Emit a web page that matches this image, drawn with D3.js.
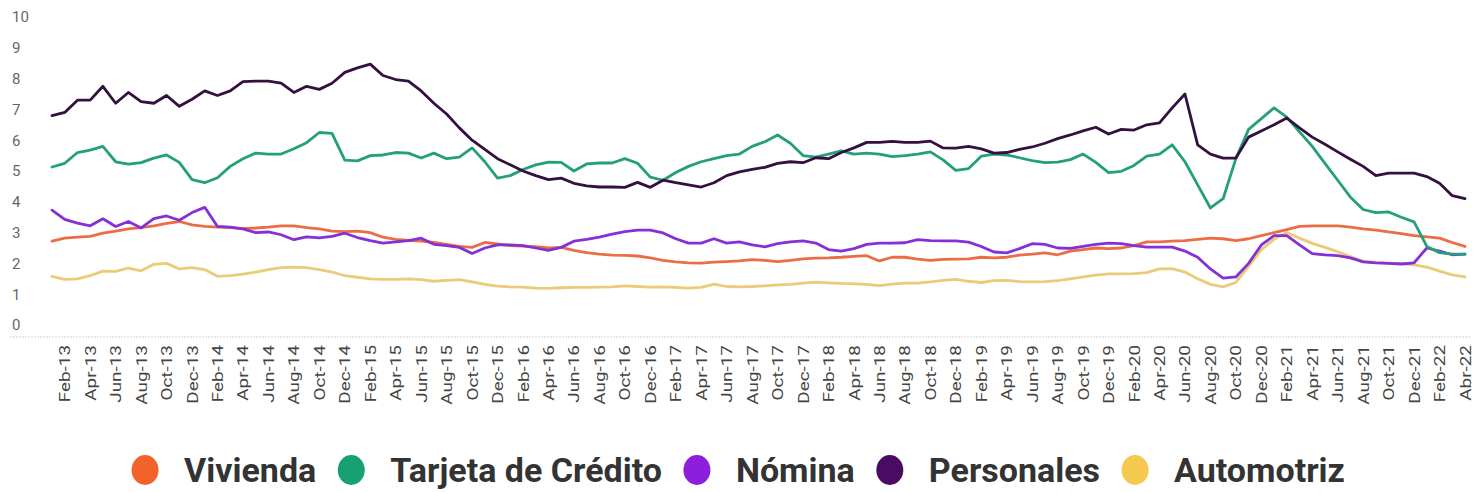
<!DOCTYPE html>
<html>
<head>
<meta charset="utf-8">
<script src="https://cdn.jsdelivr.net/npm/d3@7"></script>
<style>
  html, body { margin: 0; padding: 0; background: #fff; }
  svg { display: block; font-family: Roboto, "Noto Sans", sans-serif; }
</style>
</head>
<body>
<svg id="chart" width="1476" height="492"></svg>
<script>
// ---------- DATA ----------
const monthAbbr = ["Jan","Feb","Mar","Apr","May","Jun","Jul","Aug","Sep","Oct","Nov","Dec"];
// categories: Jan-13 .. Apr-22 (112 months)
const categories = [];
for (let y = 13; y <= 22; y++) {
  for (let m = 0; m < 12; m++) {
    if (y === 22 && m > 3) break;
    categories.push(monthAbbr[m] + "-" + y);
  }
}

const tickLabels = [
  "Feb-13","Apr-13","Jun-13","Aug-13","Oct-13","Dec-13",
  "Feb-14","Apr-14","Jun-14","Aug-14","Oct-14","Dec-14",
  "Feb-15","Apr-15","Jun-15","Aug-15","Oct-15","Dec-15",
  "Feb-16","Apr-16","Jun-16","Aug-16","Oct-16","Dec-16",
  "Feb-17","Apr-17","Jun-17","Aug-17","Oct-17","Dec-17",
  "Feb-18","Apr-18","Jun-18","Aug-18","Oct-18","Dec-18",
  "Feb-19","Apr-19","Jun-19","Aug-19","Oct-19","Dec-19",
  "Feb-20","Apr-20","Jun-20","Aug-20","Oct-20","Dec-20",
  "Feb-21","Apr-21","Jun-21","Aug-21","Oct-21","Dec-21",
  "Feb-22","Abr-22"
];

const yTicks = [0,1,2,3,4,5,6,7,8,9,10];

const vivienda = [
  2.72,2.82,2.85,2.88,2.98,3.05,3.12,3.16,3.22,3.30,
  3.36,3.25,3.20,3.18,3.16,3.13,3.15,3.18,3.22,3.22,
  3.16,3.12,3.05,3.03,3.05,3.00,2.85,2.78,2.75,2.72,
  2.68,2.62,2.55,2.52,2.68,2.63,2.58,2.56,2.54,2.50,
  2.52,2.42,2.35,2.30,2.27,2.26,2.24,2.18,2.10,2.05,
  2.02,2.01,2.04,2.06,2.08,2.12,2.10,2.06,2.10,2.15,
  2.17,2.18,2.20,2.23,2.25,2.08,2.20,2.20,2.14,2.10,
  2.13,2.14,2.15,2.20,2.18,2.20,2.27,2.30,2.34,2.28,
  2.40,2.45,2.50,2.48,2.50,2.58,2.70,2.70,2.72,2.74,
  2.78,2.82,2.80,2.74,2.80,2.90,3.00,3.10,3.20,3.22,
  3.22,3.22,3.18,3.12,3.08,3.02,2.97,2.90,2.86,2.82,
  2.68,2.55
];

const tarjeta = [
  5.13,5.25,5.60,5.68,5.80,5.30,5.22,5.27,5.42,5.52,
  5.28,4.72,4.62,4.78,5.15,5.40,5.58,5.55,5.55,5.72,
  5.92,6.25,6.22,5.35,5.33,5.50,5.52,5.60,5.58,5.42,
  5.58,5.40,5.45,5.75,5.30,4.77,4.85,5.05,5.20,5.29,
  5.28,5.00,5.23,5.26,5.26,5.40,5.25,4.80,4.70,4.95,
  5.15,5.30,5.40,5.50,5.55,5.80,5.95,6.17,5.90,5.50,
  5.45,5.55,5.65,5.55,5.58,5.55,5.47,5.50,5.55,5.62,
  5.36,5.02,5.08,5.48,5.55,5.52,5.43,5.34,5.27,5.29,
  5.37,5.55,5.28,4.95,4.99,5.18,5.48,5.55,5.85,5.30,
  4.55,3.80,4.10,5.40,6.35,6.70,7.05,6.75,6.27,5.80,
  5.25,4.70,4.15,3.75,3.65,3.67,3.50,3.35,2.55,2.35,
  2.30,2.30
];

const nomina = [
  3.73,3.43,3.31,3.22,3.45,3.20,3.36,3.15,3.45,3.54,
  3.40,3.65,3.82,3.20,3.18,3.12,3.00,3.02,2.93,2.77,
  2.86,2.83,2.88,2.98,2.84,2.74,2.66,2.70,2.74,2.82,
  2.62,2.58,2.52,2.32,2.50,2.60,2.60,2.58,2.50,2.42,
  2.52,2.72,2.78,2.85,2.95,3.03,3.08,3.08,2.99,2.80,
  2.66,2.66,2.80,2.66,2.70,2.60,2.54,2.64,2.70,2.73,
  2.66,2.45,2.40,2.48,2.62,2.66,2.66,2.67,2.77,2.74,
  2.73,2.73,2.69,2.55,2.37,2.34,2.48,2.64,2.62,2.50,
  2.49,2.55,2.62,2.66,2.64,2.58,2.53,2.53,2.53,2.40,
  2.20,1.82,1.52,1.56,2.00,2.60,2.90,2.90,2.60,2.32,
  2.28,2.25,2.18,2.05,2.02,2.00,1.98,2.02,2.50,2.40,
  2.28,2.30
];

const personales = [
  6.80,6.90,7.30,7.30,7.75,7.20,7.55,7.25,7.20,7.45,
  7.10,7.33,7.60,7.45,7.60,7.90,7.92,7.92,7.85,7.55,
  7.75,7.65,7.85,8.20,8.35,8.47,8.10,7.97,7.92,7.60,
  7.20,6.85,6.40,6.00,5.70,5.40,5.20,5.00,4.85,4.72,
  4.77,4.60,4.52,4.48,4.48,4.47,4.63,4.47,4.70,4.62,
  4.55,4.48,4.62,4.85,4.97,5.05,5.12,5.25,5.30,5.27,
  5.43,5.40,5.60,5.75,5.93,5.93,5.96,5.93,5.93,5.97,
  5.75,5.74,5.80,5.72,5.58,5.60,5.70,5.78,5.90,6.05,
  6.17,6.30,6.42,6.20,6.35,6.33,6.50,6.56,7.05,7.50,
  5.85,5.55,5.42,5.42,6.10,6.30,6.50,6.72,6.40,6.10,
  5.87,5.62,5.38,5.15,4.85,4.93,4.93,4.93,4.82,4.60,
  4.20,4.10
];

const automotriz = [
  1.58,1.48,1.50,1.60,1.75,1.74,1.85,1.76,1.97,2.00,
  1.82,1.86,1.80,1.58,1.60,1.65,1.72,1.80,1.86,1.88,
  1.86,1.80,1.72,1.60,1.55,1.50,1.48,1.48,1.50,1.47,
  1.42,1.45,1.47,1.40,1.32,1.26,1.24,1.23,1.20,1.19,
  1.21,1.22,1.22,1.23,1.24,1.27,1.25,1.23,1.24,1.22,
  1.20,1.22,1.33,1.25,1.24,1.25,1.27,1.30,1.32,1.36,
  1.39,1.37,1.35,1.34,1.32,1.28,1.33,1.36,1.36,1.40,
  1.45,1.48,1.42,1.38,1.44,1.45,1.41,1.40,1.41,1.44,
  1.50,1.56,1.62,1.66,1.66,1.67,1.70,1.82,1.83,1.72,
  1.50,1.32,1.24,1.38,1.90,2.45,2.78,3.00,2.82,2.65,
  2.52,2.38,2.22,2.07,2.03,2.01,1.99,1.95,1.88,1.75,
  1.63,1.56
];

const seriesNames = ["Vivienda","Tarjeta de Crédito","Nómina","Personales","Automotriz"];
const lineColors  = ["#EC6D45","#23A07A","#8530D6","#34103F","#ECCB78"];
const dotColors   = ["#F4622C","#16A174","#8D1FDC","#4A0C63","#F5C94E"];
const seriesData  = [vivienda, tarjeta, nomina, personales, automotriz];

// ---------- CHART ----------
const svg = d3.select("#chart");

const x = d3.scalePoint().domain(categories).range([52, 1465]);
const y = d3.scaleLinear().domain([0, 10]).range([325, 17]);

// faint baseline
svg.append("line")
  .attr("x1", 10).attr("x2", 1470)
  .attr("y1", 337).attr("y2", 337)
  .attr("stroke", "#e2e2e2").attr("stroke-width", 1.5)
  .attr("stroke-dasharray", "2,1");

// y labels
svg.append("g").selectAll("text")
  .data(yTicks).join("text")
  .attr("x", 12)
  .attr("y", d => y(d))
  .attr("dy", "0.36em")
  .attr("font-size", 15)
  .attr("fill", "#666")
  .text(d => d);

// x axis
const tickCats = categories.filter((c, i) => i % 2 === 1);
const xAxis = d3.axisBottom(x)
  .tickValues(tickCats)
  .tickSize(0)
  .tickFormat((d, i) => tickLabels[i]);

const gx = svg.append("g").attr("transform", "translate(0,345)").call(xAxis);
gx.select(".domain").remove();
gx.selectAll("text")
  .attr("font-family", "Roboto, sans-serif")
  .attr("font-size", 14)
  .attr("fill", "#444")
  .attr("text-anchor", "end")
  .attr("x", 0).attr("y", 0)
  .attr("dx", 0).attr("dy", "0.36em")
  .attr("transform", "rotate(-90) scale(1.35,1)");

// lines
const line = d3.line()
  .x((d, i) => x(categories[i]))
  .y(d => y(d))
  .curve(d3.curveLinear);

const drawOrder = [4, 0, 2, 1, 3];
svg.append("g").selectAll("path")
  .data(drawOrder).join("path")
  .attr("d", k => line(seriesData[k]))
  .attr("fill", "none")
  .attr("stroke", k => lineColors[k])
  .attr("stroke-width", 2.8)
  .attr("stroke-linejoin", "round")
  .attr("stroke-linecap", "round");

// legend
const legend = svg.append("g");
const items = legend.selectAll("g.item").data(seriesNames).join("g").attr("class", "item");
items.append("ellipse")
  .attr("rx", 13.5).attr("ry", 15)
  .attr("cx", 0).attr("cy", 0)
  .attr("fill", (d, i) => dotColors[i]);
items.append("text")
  .attr("x", 39).attr("y", 0)
  .attr("dy", "0.36em")
  .attr("font-size", 34)
  .attr("font-weight", 700)
  .attr("fill", "#333")
  .text(d => d);

let cx = 0;
const pos = [];
items.each(function(d, i) {
  const w = d3.select(this).select("text").node().getComputedTextLength();
  pos.push(cx);
  cx += 39 + w + 35;
});
const totalW = cx - 35 + 14;
const startX = (1476 - totalW) / 2 + 14;
items.attr("transform", (d, i) => `translate(${startX + pos[i]},470)`);
</script>
</body>
</html>
